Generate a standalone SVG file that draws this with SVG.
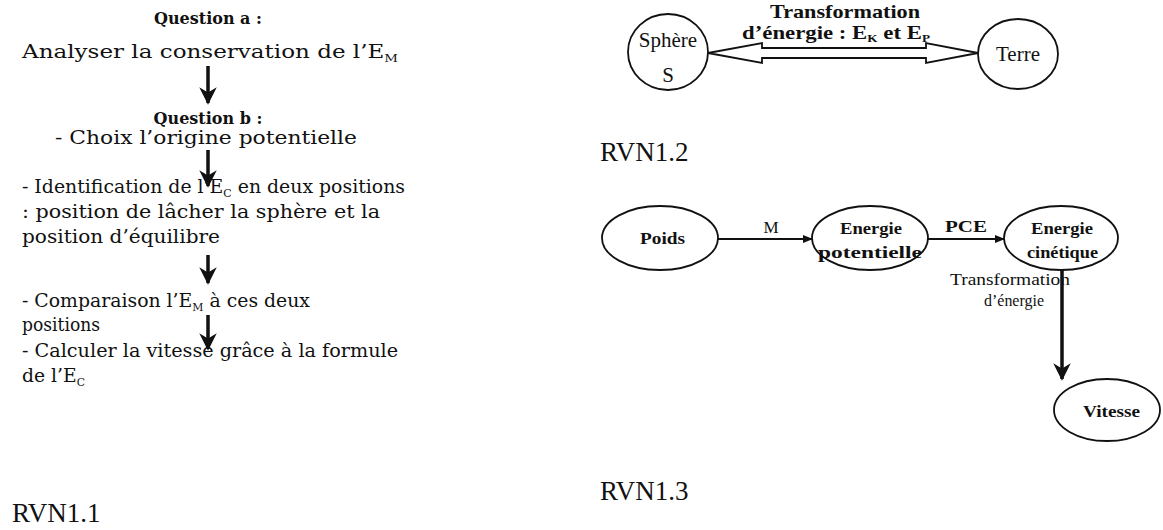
<svg xmlns="http://www.w3.org/2000/svg" width="1163" height="530" viewBox="0 0 1163 530">
<style>
.t{font-family:"DejaVu Serif","Liberation Serif",serif;font-size:19px;fill:#111}
.tb{font-family:"DejaVu Serif","Liberation Serif",serif;font-size:16px;font-weight:bold;fill:#111}
.sub{font-size:11px}
.lab{font-family:"Liberation Serif",serif;font-size:27px;fill:#111}
.n{font-family:"Liberation Serif",serif;font-size:21px;fill:#111}
.nb{font-family:"Liberation Serif",serif;font-size:17px;font-weight:bold;fill:#111}
.nbig{font-family:"Liberation Serif",serif;font-size:19px;font-weight:bold;fill:#111}
.ns{font-family:"Liberation Serif",serif;font-size:17px;fill:#111}
.el{fill:#fff;stroke:#111;stroke-width:1.8}
.va{stroke:#111;stroke-width:3.5;fill:none}
.ln{stroke:#111;stroke-width:2;fill:none}
</style>
<defs>
<marker id="ah" viewBox="0 0 10 10" refX="9" refY="5" markerWidth="5" markerHeight="5" orient="auto" markerUnits="strokeWidth">
<path d="M0,0 L10,5 L0,10 L3,5 z" fill="#111"/>
</marker>
<marker id="ah2" viewBox="0 0 10 10" refX="9" refY="5" markerWidth="5" markerHeight="5" orient="auto" markerUnits="strokeWidth">
<path d="M0,1 L10,5 L0,9 z" fill="#111"/>
</marker>
</defs>

<g id="connectors">
<line class="va" x1="208" y1="66" x2="208" y2="103" marker-end="url(#ah)"/>
<line class="va" x1="208" y1="150" x2="208" y2="186" marker-end="url(#ah)"/>
<line class="va" x1="208" y1="255" x2="208" y2="283" marker-end="url(#ah)"/>
<line class="va" x1="208" y1="315" x2="208" y2="349" marker-end="url(#ah)"/>
<path d="M708,53 L762,43 L762,48 L926,48 L926,43 L978,53 L926,63 L926,58 L762,58 L762,63 Z" fill="#fff" stroke="#111" stroke-width="1.8"/>
<line class="ln" x1="718" y1="239" x2="812" y2="239" marker-end="url(#ah2)"/>
<text class="ns" x="771" y="233" text-anchor="middle">M</text>
<line class="ln" x1="928" y1="239" x2="1004" y2="239" marker-end="url(#ah2)"/>
<text class="nb" x="945" y="232" textLength="42" lengthAdjust="spacingAndGlyphs">PCE</text>
<text class="ns" x="950" y="285" textLength="120" lengthAdjust="spacingAndGlyphs">Transformation</text>
<text class="ns" x="984" y="306" textLength="60" lengthAdjust="spacingAndGlyphs">d’énergie</text>
<line class="va" x1="1062" y1="270" x2="1062" y2="379" marker-end="url(#ah)"/>
</g>

<g id="rvn11">
<g id="qa">
<text class="tb" x="208" y="24" text-anchor="middle">Question a :</text>
<text class="t" x="22" y="58" textLength="376" lengthAdjust="spacingAndGlyphs">Analyser la conservation de l’E<tspan class="sub" dy="4">M</tspan></text>
</g>
<g id="qb">
<text class="tb" x="208" y="124" text-anchor="middle">Question b :</text>
<text class="t" x="55" y="144" textLength="302" lengthAdjust="spacingAndGlyphs">- Choix l’origine potentielle</text>
</g>
<g id="ident">
<text class="t" x="22" y="193" textLength="383" lengthAdjust="spacingAndGlyphs">- Identification de l’E<tspan class="sub" dy="4">C</tspan><tspan dy="-4"> en deux positions</tspan></text>
<text class="t" x="22" y="218" textLength="358" lengthAdjust="spacingAndGlyphs">: position de lâcher la sphère et la</text>
<text class="t" x="22" y="243" textLength="198" lengthAdjust="spacingAndGlyphs">position d’équilibre</text>
</g>
<g id="comp">
<text class="t" x="22" y="307" textLength="288" lengthAdjust="spacingAndGlyphs">- Comparaison l’E<tspan class="sub" dy="4">M</tspan><tspan dy="-4"> à ces deux</tspan></text>
<text class="t" x="22" y="331" textLength="78" lengthAdjust="spacingAndGlyphs">positions</text>
</g>
<g id="calc">
<text class="t" x="22" y="357" textLength="376" lengthAdjust="spacingAndGlyphs">- Calculer la vitesse grâce à la formule</text>
<text class="t" x="22" y="382" textLength="63" lengthAdjust="spacingAndGlyphs">de l’E<tspan class="sub" dy="4">C</tspan></text>
</g>
<text class="lab" x="12" y="522">RVN1.1</text>
</g>

<g id="sphere">
<ellipse class="el" cx="668" cy="52" rx="40" ry="38"/>
<text class="n" x="668" y="47" text-anchor="middle">Sphère</text>
<text class="n" x="668" y="82" text-anchor="middle">S</text>
</g>
<g id="terre">
<ellipse class="el" cx="1018" cy="54" rx="40" ry="35"/>
<text class="n" x="1018" y="61" text-anchor="middle">Terre</text>
</g>
<g id="tlabel">
<text class="nbig" x="770" y="18" textLength="150" lengthAdjust="spacingAndGlyphs">Transformation</text>
<text class="nbig" x="742" y="39" textLength="188" lengthAdjust="spacingAndGlyphs">d’énergie : E<tspan class="sub" dy="3">K</tspan><tspan dy="-3"> et E</tspan><tspan class="sub" dy="3">P</tspan></text>
</g>
<text class="lab" x="600" y="161">RVN1.2</text>

<g id="poids">
<ellipse class="el" cx="660" cy="238" rx="58" ry="32"/>
<text class="nb" x="640" y="244" textLength="45" lengthAdjust="spacingAndGlyphs">Poids</text>
</g>
<g id="epot">
<ellipse class="el" cx="870" cy="238" rx="58" ry="32"/>
<text class="nb" x="840" y="234" textLength="62" lengthAdjust="spacingAndGlyphs">Energie</text>
<text class="nb" x="818" y="258" textLength="104" lengthAdjust="spacingAndGlyphs">potentielle</text>
</g>
<g id="ecin">
<ellipse class="el" cx="1061" cy="238" rx="57" ry="32"/>
<text class="nb" x="1031" y="234" textLength="62" lengthAdjust="spacingAndGlyphs">Energie</text>
<text class="nb" x="1027" y="258" textLength="71" lengthAdjust="spacingAndGlyphs">cinétique</text>
</g>
<g id="vitesse">
<ellipse class="el" cx="1107" cy="410" rx="53" ry="31"/>
<text class="nb" x="1083" y="417" textLength="57" lengthAdjust="spacingAndGlyphs">Vitesse</text>
</g>
<text class="lab" x="600" y="500">RVN1.3</text>
</svg>
